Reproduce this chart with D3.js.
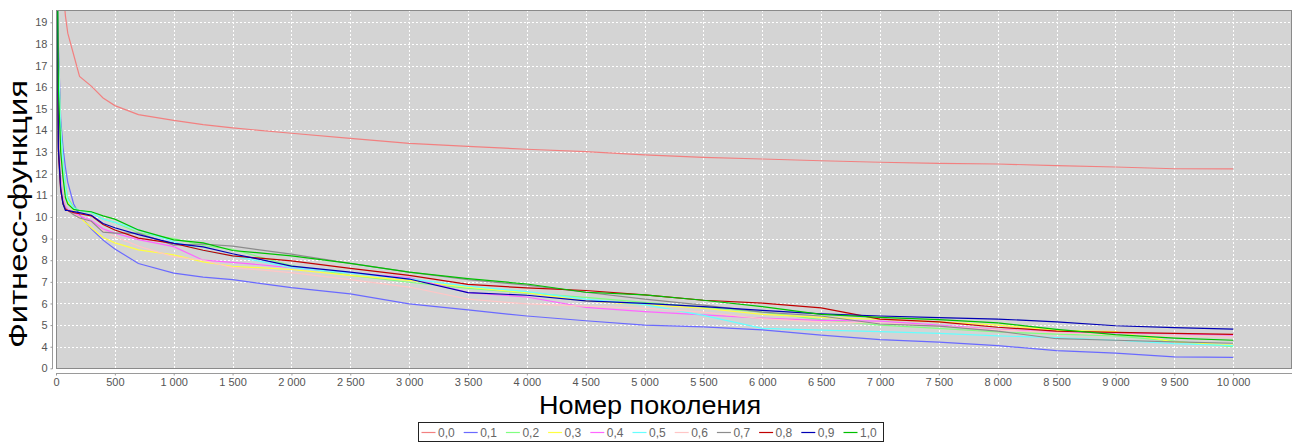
<!DOCTYPE html>
<html lang="ru">
    <head>
        <meta charset="UTF-8">
        <title>Фитнесс-функция</title>
        <script type="text/javascript" src="https://cdn.jsdelivr.net/npm/d3@7"></script>
        <style>
         body { margin: 0; background: #fff; font-family: "Liberation Sans", Arial, sans-serif; }
        </style>
    </head>

    <body>
      <div id="svgcontainer"></div>
        <script>
            const width = 1295;
            const height = 446;

            // generation numbers shared by all series
            const gens = [0, 20, 40, 60, 80, 100, 150, 200, 300, 400, 500, 700, 1000, 1250, 1500,
                2000, 2500, 3000, 3500, 4000, 4500, 5000, 5500, 6000, 6500, 7000, 7500, 8000,
                8500, 9000, 9500, 10000];

            // fitness values per mutation setting
            const fit00 = [32, 27, 23, 20.6, 19.3, 18.5, 17.5, 16.5, 16.05, 15.5, 15.15, 14.73, 14.47, 14.27, 14.12,
                13.87, 13.63, 13.4, 13.26, 13.13, 13.02, 12.87, 12.76, 12.68, 12.6, 12.53, 12.48, 12.45,
                12.37, 12.31, 12.23, 12.22];
            const fit01 = [30, 18.0, 14.5, 13.2, 12.3, 11.6, 10.6, 10.1, 9.45, 8.93, 8.52, 7.85, 7.4, 7.22, 7.1,
                6.73, 6.44, 5.98, 5.7, 5.42, 5.2, 5.0, 4.92, 4.78, 4.54, 4.33, 4.21, 4.05,
                3.82, 3.7, 3.53, 3.51];
            const fit02 = [30, 17.5, 14.2, 12.6, 11.5, 10.9, 10.45, 10.3, 10.2, 9.9, 9.75, 9.27, 9.0, 8.68, 8.5,
                7.75, 7.3, 6.98, 6.7, 6.48, 6.28, 6.05, 5.83, 5.6, 5.25, 5.0, 4.85, 4.68,
                4.58, 4.5, 4.26, 4.0];
            const fit03 = [30, 17.0, 13.8, 12.3, 11.3, 10.7, 10.3, 10.0, 9.5, 9.05, 8.8, 8.48, 8.25, 7.92, 7.72,
                7.57, 7.3, 7.07, 6.75, 6.5, 6.12, 5.95, 5.78, 5.5, 5.36, 5.27, 5.15, 5.0,
                4.76, 4.7, 4.22, 4.08];
            const fit04 = [30, 14.5, 11.8, 10.9, 10.5, 10.35, 10.2, 10.05, 9.84, 9.45, 9.25, 8.95, 8.63, 8.0, 7.9,
                7.66, 7.42, 7.2, 6.5, 6.3, 5.82, 5.62, 5.47, 5.32, 5.22, 5.18, 5.0, 4.8,
                4.68, 4.64, 4.6, 4.54];
            const fit05 = [30, 17.2, 14.0, 12.5, 11.4, 10.8, 10.4, 10.3, 10.22, 9.9, 9.75, 9.4, 8.86, 8.45, 8.2,
                7.66, 7.4, 7.14, 6.8, 6.55, 6.2, 5.95, 5.45, 4.85, 4.77, 4.7, 4.62, 4.5,
                4.42, 4.3, 4.14, 4.05];
            const fit06 = [30, 14.5, 11.6, 10.8, 10.4, 10.25, 10.1, 9.95, 9.75, 9.35, 9.1, 8.65, 8.16, 8.0, 7.66,
                7.43, 7.1, 6.76, 6.2, 5.98, 5.88, 5.78, 5.6, 5.3, 5.14, 5.1, 4.95, 4.78,
                4.65, 4.55, 4.5, 4.45];
            const fit07 = [30, 13.5, 11.4, 10.7, 10.4, 10.3, 10.1, 9.95, 9.8, 9.3, 9.25, 9.25, 8.7, 8.75, 8.65,
                8.28, 7.85, 7.45, 7.1, 6.85, 6.52, 6.2, 5.92, 5.6, 5.42, 5.05, 4.95, 4.72,
                4.37, 4.3, 4.22, 4.16];
            const fit08 = [30, 13.0, 11.2, 10.6, 10.35, 10.3, 10.2, 10.15, 10.05, 9.65, 9.4, 9.02, 8.78, 8.46, 8.2,
                7.97, 7.62, 7.3, 6.88, 6.72, 6.6, 6.4, 6.15, 6.02, 5.8, 5.28, 5.15, 4.9,
                4.72, 4.66, 4.62, 4.57];
            const fit09 = [30, 13.2, 11.3, 10.6, 10.3, 10.3, 10.25, 10.2, 10.08, 9.7, 9.5, 9.18, 8.78, 8.62, 8.3,
                7.73, 7.45, 7.13, 6.5, 6.38, 6.12, 6.0, 5.85, 5.68, 5.52, 5.42, 5.35, 5.28,
                5.15, 4.97, 4.88, 4.81];
            const fit10 = [30, 16, 13, 11.8, 10.9, 10.6, 10.35, 10.3, 10.24, 10.05, 9.9, 9.4, 8.94, 8.8, 8.45,
                8.2, 7.85, 7.45, 7.15, 6.9, 6.52, 6.4, 6.15, 5.85, 5.5, 5.36, 5.25, 5.1,
                4.8, 4.56, 4.4, 4.3];

            const seriesNames = ["0,0", "0,1", "0,2", "0,3", "0,4", "0,5", "0,6", "0,7", "0,8", "0,9", "1,0"];
            const seriesValues = [fit00, fit01, fit02, fit03, fit04, fit05, fit06, fit07, fit08, fit09, fit10];
            const seriesColors = ["#f28080", "#6a6aff", "#80ff80", "#ffff40", "#ff66ff", "#66ffff",
                "#ffc6c6", "#8c8c8c", "#c00000", "#0000b4", "#00c000"];

            const xTicks = [0, 500, 1000, 1500, 2000, 2500, 3000, 3500, 4000, 4500, 5000, 5500,
                6000, 6500, 7000, 7500, 8000, 8500, 9000, 9500, 10000];
            const yTicks = [3, 4, 5, 6, 7, 8, 9, 10, 11, 12, 13, 14, 15, 16, 17, 18, 19];
            const yTickLabels = ["0", "4", "5", "6", "7", "8", "9", "10", "11", "12", "13", "14",
                "15", "16", "17", "18", "19"];

            // plot box
            const plot = { left: 56, right: 1292, top: 10, bottom: 369 };

            const x = d3.scaleLinear().domain([0, 10500]).range([plot.left, plot.right]);
            const y = d3.scaleLinear().domain([2.97, 19.57]).range([plot.bottom, plot.top]);

            const svg = d3.select("#svgcontainer")
                .append("svg")
                .attr("width", width)
                .attr("height", height)
                .attr("viewBox", [0, 0, width, height]);

            svg.append("defs")
                .append("clipPath")
                .attr("id", "clip")
                .append("rect")
                .attr("x", plot.left)
                .attr("y", plot.top)
                .attr("width", plot.right - plot.left)
                .attr("height", plot.bottom - plot.top);

            // plot background
            svg.append("rect")
                .attr("x", plot.left)
                .attr("y", plot.top)
                .attr("width", plot.right - plot.left)
                .attr("height", plot.bottom - plot.top)
                .attr("fill", "#d4d4d4");

            // grid lines
            svg.append("g")
                .selectAll("line")
                .data(xTicks)
                .enter().append("line")
                .attr("x1", d => Math.round(x(d)) + 0.5)
                .attr("x2", d => Math.round(x(d)) + 0.5)
                .attr("y1", plot.top)
                .attr("y2", plot.bottom)
                .attr("stroke", "#ffffff")
                .attr("stroke-dasharray", "2,2");

            svg.append("g")
                .selectAll("line")
                .data(yTicks)
                .enter().append("line")
                .attr("x1", plot.left)
                .attr("x2", plot.right)
                .attr("y1", d => Math.round(y(d)) + 0.5)
                .attr("y2", d => Math.round(y(d)) + 0.5)
                .attr("stroke", "#ffffff")
                .attr("stroke-dasharray", "2,2");

            // series lines
            const line = d3.line()
                .x((d, i) => x(gens[i]))
                .y(d => y(d));

            svg.append("g")
                .attr("clip-path", "url(#clip)")
                .selectAll("path")
                .data(seriesValues)
                .enter().append("path")
                .attr("d", d => line(d))
                .attr("fill", "none")
                .attr("stroke", (d, i) => seriesColors[i])
                .attr("stroke-width", 1.2);

            // plot outline
            svg.append("rect")
                .attr("x", plot.left + 0.5)
                .attr("y", plot.top + 0.5)
                .attr("width", plot.right - plot.left - 1)
                .attr("height", plot.bottom - plot.top - 1)
                .attr("fill", "none")
                .attr("stroke", "#8a8a8a");

            // axes
            const yAxis = d3.axisLeft(y)
                .tickValues(yTicks)
                .tickFormat((d, i) => yTickLabels[i])
                .tickSize(2)
                .tickPadding(3);

            const yAxisG = svg.append("g")
                .attr("transform", "translate(52.5,0)")
                .call(yAxis);

            const xAxis = d3.axisBottom(x)
                .tickValues(xTicks)
                .tickFormat(d => d3.format(",")(d).replace(/,/g, " "))
                .tickSize(2)
                .tickPadding(3);

            const xAxisG = svg.append("g")
                .attr("transform", "translate(0,373.5)")
                .call(xAxis);

            yAxisG.select(".domain").attr("d", "M0," + plot.top + "V" + plot.bottom);
            xAxisG.select(".domain").attr("d", "M" + plot.left + ",0H" + plot.right);

            svg.selectAll(".domain").attr("stroke", "#9a9a9a");
            svg.selectAll(".tick line").attr("stroke", "#9a9a9a");
            svg.selectAll(".tick text")
                .attr("fill", "#555")
                .style("font-family", "'Liberation Sans', Arial, sans-serif")
                .style("font-size", "11px");

            // axis titles
            svg.append("text")
                .attr("transform", "translate(27,214) rotate(-90)")
                .attr("text-anchor", "middle")
                .attr("textLength", 268)
                .attr("lengthAdjust", "spacingAndGlyphs")
                .style("font-size", "26px")
                .attr("fill", "#000")
                .text("Фитнесс-функция");

            svg.append("text")
                .attr("x", 650)
                .attr("y", 414)
                .attr("text-anchor", "middle")
                .attr("textLength", 222)
                .attr("lengthAdjust", "spacingAndGlyphs")
                .style("font-size", "26px")
                .attr("fill", "#000")
                .text("Номер поколения");

            // legend
            const legend = svg.append("g");
            legend.append("rect")
                .attr("x", 418.5)
                .attr("y", 422.5)
                .attr("width", 465)
                .attr("height", 19)
                .attr("fill", "#fff")
                .attr("stroke", "#222");

            const items = legend.selectAll("g")
                .data(seriesNames)
                .enter().append("g")
                .attr("transform", (d, i) => "translate(" + (421.5 + i * 42.2) + ",0)");

            items.append("line")
                .attr("x1", 0)
                .attr("x2", 14)
                .attr("y1", 432.5)
                .attr("y2", 432.5)
                .attr("stroke", (d, i) => seriesColors[i])
                .attr("stroke-width", 1.2);

            items.append("text")
                .attr("x", 16.5)
                .attr("y", 437)
                .attr("fill", "#666")
                .style("font-size", "12px")
                .text(d => d);
        </script>
    </body>
</html>
